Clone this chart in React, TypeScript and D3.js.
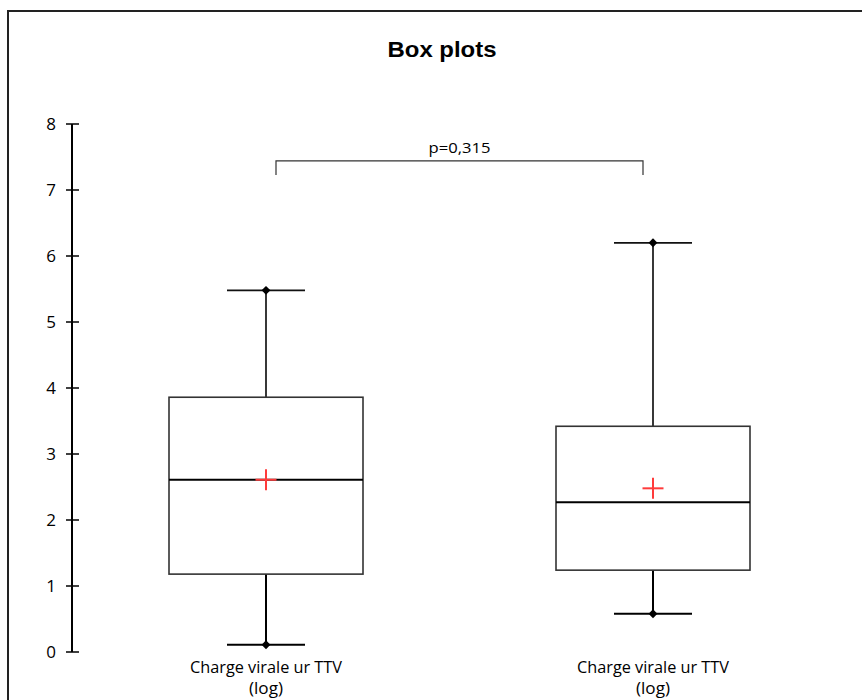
import React from "react";
import * as d3 from "d3";

const categories = ["Charge virale ur TTV", "Charge virale ur TTV"];
const categorySub = ["(log)", "(log)"];
const minimums = [0.11, 0.58];
const q1s = [1.18, 1.24];
const medians = [2.61, 2.27];
const means = [2.61, 2.48];
const q3s = [3.86, 3.42];
const maximums = [5.48, 6.2];
const yTicks = [0, 1, 2, 3, 4, 5, 6, 7, 8];
const title = "Box plots";
const pLabel = "p=0,315";
const bracketValue = 7.44;

const W = 862;
const H = 700;

export default function App() {
  const y = d3.scaleLinear().domain([0, 8]).range([652, 124]);
  const x = d3.scalePoint<number>().domain([0, 1]).range([266, 653]);
  const boxW = 194;
  const capW = 78;
  const labelFont = "'Open Sans', 'Noto Sans', sans-serif";
  const diamond = d3.symbol().type(d3.symbolDiamond2).size(50)();

  const bx0 = x(0)! + 10;
  const bx1 = x(1)! - 10;
  const by = y(bracketValue);

  return (
    <svg
      width={W}
      height={H}
      style={{ position: "absolute", left: 0, top: 0, background: "#fff" }}
    >
      <rect x={8} y={11} width={900} height={740} fill="#fff" stroke="#222" strokeWidth={2} />
      <text
        x={442}
        y={57}
        textAnchor="middle"
        fontFamily="Arial, 'Liberation Sans', sans-serif"
        fontWeight="bold"
        fontSize={22}
        textLength={109}
        lengthAdjust="spacingAndGlyphs"
        fill="#000"
      >
        {title}
      </text>

      {/* y axis */}
      <line x1={72} x2={72} y1={y(0)} y2={y(8)} stroke="#000" strokeWidth={2} />
      {yTicks.map((t) => (
        <g key={t}>
          <line x1={66} x2={79} y1={y(t)} y2={y(t)} stroke="#000" strokeWidth={1.5} />
          <text
            x={56}
            y={y(t)}
            dy="0.36em"
            textAnchor="end"
            fontFamily={labelFont}
            fontSize={17}
            fill="#000"
          >
            {t}
          </text>
        </g>
      ))}

      {/* bracket */}
      <path
        d={`M${bx0},${by + 14}V${by}H${bx1}V${by + 14}`}
        fill="none"
        stroke="#333"
        strokeWidth={1.2}
      />
      <text
        x={(bx0 + bx1) / 2}
        y={by - 8}
        textAnchor="middle"
        fontFamily={labelFont}
        fontSize={15}
        textLength={62}
        lengthAdjust="spacingAndGlyphs"
        fill="#000"
      >
        {pLabel}
      </text>

      {categories.map((c, i) => {
        const cx = x(i)!;
        return (
          <g key={i}>
            <line x1={cx} x2={cx} y1={y(maximums[i])} y2={y(q3s[i])} stroke="#222" strokeWidth={1.8} />
            <line x1={cx} x2={cx} y1={y(q1s[i])} y2={y(minimums[i])} stroke="#000" strokeWidth={2} />
            <rect
              x={cx - boxW / 2}
              y={y(q3s[i])}
              width={boxW}
              height={y(q1s[i]) - y(q3s[i])}
              fill="none"
              stroke="#333"
              strokeWidth={1.6}
            />
            <line
              x1={cx - boxW / 2}
              x2={cx + boxW / 2}
              y1={y(medians[i])}
              y2={y(medians[i])}
              stroke="#000"
              strokeWidth={2}
            />
            <line x1={cx - capW / 2} x2={cx + capW / 2} y1={y(maximums[i])} y2={y(maximums[i])} stroke="#111" strokeWidth={1.8} />
            <line x1={cx - capW / 2} x2={cx + capW / 2} y1={y(minimums[i])} y2={y(minimums[i])} stroke="#000" strokeWidth={2} />
            <path d={diamond!} transform={`translate(${cx},${y(maximums[i])})`} fill="#000" />
            <path d={diamond!} transform={`translate(${cx},${y(minimums[i])})`} fill="#000" />
            <g stroke="#ff3b3b" strokeWidth={2}>
              <line x1={cx - 10.5} x2={cx + 10.5} y1={y(means[i])} y2={y(means[i])} />
              <line x1={cx} x2={cx} y1={y(means[i]) - 10.5} y2={y(means[i]) + 10.5} />
            </g>
            <text
              x={cx}
              y={673}
              textAnchor="middle"
              fontFamily={labelFont}
              fontSize={16}
              textLength={152}
              lengthAdjust="spacingAndGlyphs"
              fill="#000"
            >
              {c}
            </text>
            <text
              x={cx}
              y={694}
              textAnchor="middle"
              fontFamily={labelFont}
              fontSize={16}
              textLength={34}
              lengthAdjust="spacingAndGlyphs"
              fill="#000"
            >
              {categorySub[i]}
            </text>
          </g>
        );
      })}
    </svg>
  );
}
